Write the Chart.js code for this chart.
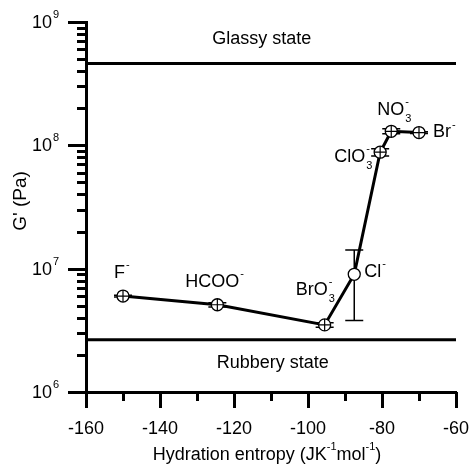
<!DOCTYPE html>
<html>
<head>
<meta charset="utf-8">
<script src="https://cdn.jsdelivr.net/npm/chart.js@4.4.1/dist/chart.umd.min.js"></script>
<style>
  html, body { margin: 0; padding: 0; background: #fff; }
</style>
</head>
<body>
<canvas id="chart" width="470" height="464"></canvas>
<script>
// anions, hydration entropy (JK-1 mol-1) and storage modulus G' (Pa)
const ions     = ["F", "HCOO", "BrO", "Cl", "ClO", "NO", "Br"];
const ionSub   = ["",  "",     "3",   "",   "3",   "3",  ""];
const entropy  = [-150, -124.5, -95.5, -87.5, -80.5, -77.5, -70];
const modulus  = [6.0e6, 5.1e6, 3.5e6, 9.0e6, 8.8e7, 1.3e8, 1.27e8];
const modErr   = [0.1e6, 0.2e6, 0.15e6, 5.2e6, 6e6, 6e6, 2e6];
const openMark = [false, false, false, true, false, false, false];
const glassyG  = 4.6e8;
const rubberyG = 2.65e6;
const xTicks   = [-160, -140, -120, -100, -80, -60];
const yDecades = [6, 7, 8, 9];

const FONT = "'Liberation Sans', Arial, sans-serif";

// where each ion label sits relative to its point (px)
const labelOffsets = [[-9, -23], [-32, -23], [-29, -35], [10, -2], [-46, 5], [-14, -21], [14, 0]];

const points = entropy.map((x, i) => ({ x, y: modulus[i] }));

const errorBars = {
    id: "errorBars",
    beforeDatasetsDraw(chart) {
        const { ctx, scales: { x, y } } = chart;
        ctx.save();
        ctx.strokeStyle = "#000";
        ctx.lineWidth = 1.5;
        points.forEach((p, i) => {
            const px = x.getPixelForValue(p.x);
            const top = y.getPixelForValue(p.y + modErr[i]);
            const bot = y.getPixelForValue(p.y - modErr[i]);
            ctx.beginPath();
            ctx.moveTo(px, top); ctx.lineTo(px, bot);
            ctx.moveTo(px - 9, top); ctx.lineTo(px + 9, top);
            ctx.moveTo(px - 9, bot); ctx.lineTo(px + 9, bot);
            ctx.stroke();
        });
        ctx.restore();
    }
};

function supText(ctx, parts, x, y, size) {
    let cx = x;
    parts.forEach(([t, mode]) => {
        ctx.font = (mode ? Math.round(size * 0.62) : size) + "px " + FONT;
        ctx.fillText(t, cx, mode === "sup" ? y - size * 0.42 : y);
        cx += ctx.measureText(t).width;
    });
    return cx - x;
}

const decorations = {
    id: "decorations",
    afterDraw(chart) {
        const { ctx, chartArea: a, scales: { x, y } } = chart;
        ctx.save();
        ctx.strokeStyle = "#000";
        ctx.fillStyle = "#000";
        ctx.lineWidth = 3;

        // y ticks, outside, log minors
        ctx.beginPath();
        yDecades.forEach(d => {
            for (let m = 1; m <= 9; m++) {
                if (d === yDecades[yDecades.length - 1] && m > 1) break;
                const py = Math.round(y.getPixelForValue(m * Math.pow(10, d))) + 0.5;
                const len = m === 1 ? 18 : 9;
                ctx.moveTo(a.left - len, py); ctx.lineTo(a.left, py);
            }
        });
        // x ticks
        for (let v = xTicks[0]; v <= xTicks[xTicks.length - 1]; v += 10) {
            const px = Math.round(x.getPixelForValue(v)) + 0.5;
            const len = xTicks.includes(v) ? 16 : 9;
            ctx.moveTo(px, a.bottom); ctx.lineTo(px, a.bottom + len);
        }
        ctx.stroke();

        // tick labels
        ctx.textBaseline = "middle";
        ctx.textAlign = "center";
        ctx.font = "18px " + FONT;
        xTicks.forEach(v => ctx.fillText(String(v), x.getPixelForValue(v), a.bottom + 37));

        yDecades.forEach(d => {
            const py = y.getPixelForValue(Math.pow(10, d));
            ctx.textAlign = "right";
            ctx.font = "18px " + FONT;
            ctx.fillText("10", a.left - 34, py + 1);
            ctx.textAlign = "left";
            ctx.font = "11px " + FONT;
            ctx.fillText(String(d), a.left - 33, py - 7);
        });

        // axis titles
        ctx.textAlign = "left";
        const titleParts = [["Hydration entropy (JK", ""], ["-1", "sup"], ["mol", ""], ["-1", "sup"], [")", ""]];
        ctx.globalAlpha = 0;
        const tw = supText(ctx, titleParts, 0, -100, 18);
        ctx.globalAlpha = 1;
        supText(ctx, titleParts, (a.left + a.right) / 2 - 4 - tw / 2, a.bottom + 63, 18);

        ctx.save();
        ctx.translate(21, (a.top + a.bottom) / 2 - 6);
        ctx.rotate(-Math.PI / 2);
        ctx.textAlign = "center";
        ctx.font = "19px " + FONT;
        ctx.fillText("G' (Pa)", 0, 0);
        ctx.restore();

        // state labels
        ctx.textAlign = "center";
        ctx.font = "18px " + FONT;
        ctx.fillText("Glassy state", x.getPixelForValue(-112.5), y.getPixelForValue(glassyG) - 25);
        ctx.fillText("Rubbery state", x.getPixelForValue(-109.5), y.getPixelForValue(rubberyG) + 23);

        // ion labels
        ctx.textAlign = "left";
        ions.forEach((name, i) => {
            const px = x.getPixelForValue(entropy[i]) + labelOffsets[i][0];
            const py = y.getPixelForValue(modulus[i]) + labelOffsets[i][1];
            ctx.font = "18px " + FONT;
            ctx.fillText(name, px, py);
            const w = ctx.measureText(name).width;
            ctx.font = "11px " + FONT;
            ctx.fillText("-", px + w + 1, py - 8);
            if (ionSub[i]) ctx.fillText(ionSub[i], px + w + 1, py + 9);
        });
        ctx.restore();
    }
};

new Chart(document.getElementById("chart").getContext("2d"), {
    type: "scatter",
    data: {
        datasets: [
            {
                label: "cross",
                data: points,
                showLine: false,
                pointStyle: "cross",
                pointRadius: c => openMark[c.dataIndex] ? 0 : 6,
                pointHoverRadius: c => openMark[c.dataIndex] ? 0 : 6,
                pointBorderColor: "#000",
                pointBorderWidth: 1.2,
            },
            {
                label: "G'",
                data: points,
                showLine: true,
                borderColor: "#000",
                borderWidth: 3,
                pointStyle: "circle",
                pointRadius: 6,
                pointHoverRadius: 6,
                pointBackgroundColor: "#fff",
                pointBorderColor: "#000",
                pointBorderWidth: 1.3,
            },
            {
                label: "Glassy",
                data: [{ x: -160, y: glassyG }, { x: -60, y: glassyG }],
                showLine: true,
                borderColor: "#000",
                borderWidth: 3,
                pointRadius: 0,
            },
            {
                label: "Rubbery",
                data: [{ x: -160, y: rubberyG }, { x: -60, y: rubberyG }],
                showLine: true,
                borderColor: "#000",
                borderWidth: 3,
                pointRadius: 0,
            },
        ]
    },
    options: {
        responsive: false,
        animation: false,
        layout: { padding: { left: 0, top: 22, right: 14, bottom: 0 } },
        plugins: { legend: { display: false }, tooltip: { enabled: false } },
        scales: {
            x: {
                type: "linear",
                min: -160,
                max: -60,
                ticks: { display: false },
                grid: { display: false, drawTicks: false },
                border: { color: "#000", width: 3 },
                afterFit: s => { s.height = 72; s.paddingLeft = 0; s.paddingRight = 0; },
            },
            y: {
                type: "logarithmic",
                min: 1e6,
                max: 1e9,
                ticks: { display: false },
                grid: { display: false, drawTicks: false },
                border: { color: "#000", width: 3 },
                afterFit: s => { s.width = 86; s.paddingTop = 0; s.paddingBottom = 0; },
            }
        }
    },
    plugins: [errorBars, decorations]
});
</script>
</body>
</html>
